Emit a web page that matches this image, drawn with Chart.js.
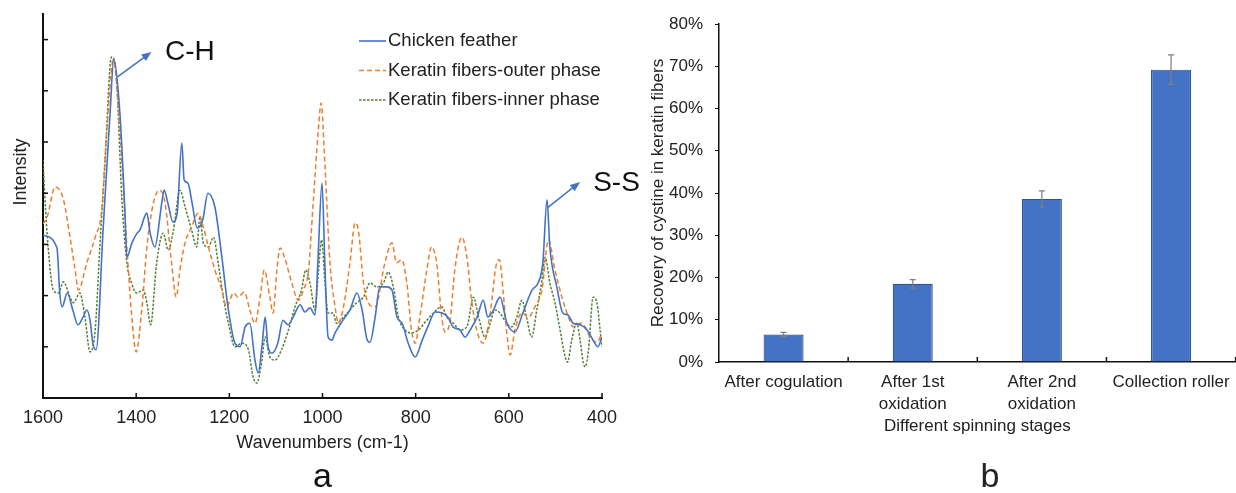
<!DOCTYPE html>
<html>
<head>
<meta charset="utf-8">
<script src="https://cdn.jsdelivr.net/npm/chart.js@4.4.1/dist/chart.umd.min.js"></script>
<style>
html, body { margin: 0; padding: 0; background: #fff; overflow: hidden; }
#wrap { position: relative; width: 1236px; height: 493px; }
#spec { position: absolute; left: 0; top: 0; }
#bars { position: absolute; left: 615px; top: 0; }
</style>
</head>
<body>
<div id="wrap">
<canvas id="spec" width="650" height="493" style="width:650px;height:493px"></canvas>
<canvas id="bars" width="624" height="493" style="width:624px;height:493px"></canvas>
</div>
<script>
// ---- panel a: Raman spectra, [wavenumber, intensity]
const chickenFeather = [[1600,3.18],[1570,2.93],[1564,2.05],[1559,1.78],[1548,2.05],[1536,1.72],[1525,1.43],[1514,1.58],[1506,1.72],[1499,1.52],[1493,1.07],[1486,0.94],[1471,3.28],[1456,5.57],[1448,6.62],[1435,5.57],[1424,3.61],[1420,2.75],[1409,3.03],[1398,3.22],[1392,3.28],[1377,3.61],[1370,3.22],[1360,2.95],[1345,3.81],[1340,4.06],[1332,3.81],[1321,3.44],[1312,3.61],[1302,4.98],[1297,4.26],[1289,4.20],[1280,3.81],[1269,3.32],[1257,3.48],[1246,4.00],[1231,3.73],[1216,2.75],[1203,1.78],[1188,1.07],[1177,1.00],[1166,1.39],[1156,1.46],[1145,0.74],[1138,0.49],[1130,1.00],[1123,1.58],[1117,1.00],[1108,0.88],[1096,1.07],[1085,1.52],[1074,1.43],[1063,1.58],[1048,1.82],[1038,1.68],[1027,1.76],[1016,1.62],[1010,2.64],[1001,4.20],[995,2.64],[988,1.19],[980,1.13],[973,1.27],[956,1.52],[941,1.72],[926,2.05],[915,1.72],[904,1.13],[898,1.09],[887,1.58],[877,2.17],[862,2.17],[851,2.11],[840,1.58],[829,1.46],[816,1.07],[801,0.80],[786,1.13],[774,1.39],[758,1.68],[743,1.66],[731,1.58],[720,1.39],[705,1.33],[694,1.19],[683,1.33],[668,1.58],[655,1.91],[645,1.58],[634,1.70],[619,1.97],[604,1.46],[587,1.29],[570,1.66],[550,2.11],[537,2.25],[527,2.64],[518,3.87],[512,2.95],[497,2.17],[484,1.66],[473,1.62],[462,1.46],[447,1.43],[432,1.33],[419,1.13],[409,1.00],[400,1.19]];
const outerPhase = [[1600,3.40],[1591,3.54],[1574,4.12],[1556,3.87],[1542,3.14],[1531,2.50],[1524,2.11],[1506,2.64],[1488,3.14],[1474,3.67],[1463,5.23],[1449,6.60],[1435,5.23],[1420,2.95],[1410,1.66],[1400,0.90],[1388,1.72],[1377,2.95],[1363,3.81],[1350,4.06],[1338,3.81],[1324,2.64],[1314,1.97],[1306,2.50],[1295,3.03],[1281,3.34],[1267,3.61],[1256,3.34],[1245,2.95],[1231,2.50],[1216,2.11],[1206,1.78],[1191,2.05],[1181,1.97],[1168,2.07],[1156,1.72],[1145,1.46],[1134,1.97],[1125,2.50],[1113,1.97],[1106,1.66],[1098,2.50],[1091,2.93],[1080,2.70],[1066,2.25],[1052,1.91],[1041,2.11],[1030,2.50],[1020,3.81],[1009,5.23],[1003,5.76],[995,4.59],[984,2.64],[973,1.78],[966,1.46],[955,1.78],[941,2.64],[930,3.42],[923,3.28],[912,2.25],[902,1.86],[887,1.78],[866,2.64],[851,3.03],[841,2.64],[830,2.70],[819,2.25],[809,1.33],[801,1.07],[791,1.58],[776,2.50],[766,2.95],[755,2.64],[744,1.58],[737,1.29],[726,1.52],[716,2.50],[701,3.14],[690,2.75],[680,1.91],[669,1.33],[655,1.07],[640,1.66],[626,2.64],[620,2.70],[612,2.05],[605,1.33],[597,0.84],[587,1.33],[572,1.66],[558,1.58],[544,1.78],[529,2.11],[515,3.09],[501,2.50],[486,1.97],[472,1.58],[462,1.39],[447,1.46],[436,1.39],[426,1.19],[411,1.09],[400,1.27]];
const innerPhase = [[1600,4.65],[1596,3.93],[1589,2.95],[1578,2.11],[1567,2.05],[1556,2.27],[1542,1.97],[1535,1.86],[1521,2.05],[1510,1.58],[1499,0.90],[1488,1.33],[1478,2.95],[1467,4.59],[1453,6.66],[1442,6.21],[1431,3.93],[1420,2.64],[1410,2.25],[1399,2.05],[1385,2.11],[1377,1.86],[1369,1.43],[1356,2.64],[1342,3.22],[1331,2.89],[1320,3.28],[1306,4.06],[1295,3.73],[1281,3.28],[1270,2.95],[1263,3.54],[1256,3.03],[1245,2.95],[1234,3.14],[1224,2.64],[1213,1.97],[1202,1.46],[1188,1.00],[1173,1.07],[1159,0.94],[1149,0.41],[1141,0.29],[1131,0.68],[1123,1.19],[1113,0.80],[1102,0.74],[1088,0.94],[1073,1.33],[1059,1.78],[1045,2.11],[1036,2.50],[1027,2.25],[1016,1.72],[1009,2.44],[1002,3.09],[995,2.30],[988,1.66],[977,1.66],[970,1.46],[955,1.58],[941,1.72],[927,1.86],[912,1.97],[898,2.25],[884,2.17],[869,2.25],[859,2.46],[848,2.17],[837,1.58],[823,1.33],[809,1.27],[794,1.33],[776,1.52],[762,1.66],[744,1.78],[733,1.58],[719,1.46],[705,1.33],[690,1.39],[676,1.97],[665,1.58],[651,1.19],[640,1.46],[630,1.72],[619,1.66],[605,1.46],[594,1.39],[583,1.58],[572,1.91],[562,1.58],[551,1.19],[540,1.72],[529,2.30],[522,2.75],[512,2.25],[501,1.86],[490,1.33],[479,0.80],[474,0.70],[465,1.13],[454,1.46],[447,1.13],[440,0.68],[436,0.61],[429,0.94],[419,1.97],[411,1.86],[404,1.33],[400,1.00]];
const wavenumberTicks = [1600, 1400, 1200, 1000, 800, 600, 400];
const intensityTicks = [1, 2, 3, 4, 5, 6, 7];
// peak labels: [text, arrow from, arrow to, text anchor] in data units
const peakNotes = [
    ['C-H', [1440, 6.27], [1367, 6.76], [1338, 6.76]],
    ['S-S', [518, 3.71], [447, 4.22], [419, 4.20]]
];

// ---- panel b: cystine recovery (%)
const stages = ['After cogulation', ['After 1st', 'oxidation'], ['After 2nd', 'oxidation'], 'Collection roller'];
const recovery = [6.5, 18.5, 38.6, 69.2];
const recoveryErr = [0.5, 1.0, 1.9, 3.5];
const percentTicks = [0, 10, 20, 30, 40, 50, 60, 70, 80];

const FONT = "'Liberation Sans', Arial, sans-serif";
const INK = '#222';
Chart.defaults.font.family = FONT;
Chart.defaults.color = INK;

function toXY(pairs) { return pairs.map(p => ({ x: p[0], y: p[1] })); }

function arrow(ctx, x1, y1, x2, y2, color) {
    var a = Math.atan2(y2 - y1, x2 - x1);
    ctx.save();
    ctx.strokeStyle = color; ctx.fillStyle = color; ctx.lineWidth = 1.5;
    ctx.beginPath(); ctx.moveTo(x1, y1);
    ctx.lineTo(x2 - 8 * Math.cos(a), y2 - 8 * Math.sin(a)); ctx.stroke();
    ctx.beginPath(); ctx.moveTo(x2, y2);
    ctx.lineTo(x2 - 10 * Math.cos(a) + 4 * Math.sin(a), y2 - 10 * Math.sin(a) - 4 * Math.cos(a));
    ctx.lineTo(x2 - 10 * Math.cos(a) - 4 * Math.sin(a), y2 - 10 * Math.sin(a) + 4 * Math.cos(a));
    ctx.closePath(); ctx.fill();
    ctx.restore();
}

const specDecor = {
    id: 'specDecor',
    afterDraw(chart) {
        var ctx = chart.ctx, xs = chart.scales.x, ys = chart.scales.y, area = chart.chartArea;
        ctx.save();
        // inward ticks
        ctx.strokeStyle = '#111'; ctx.lineWidth = 1.5;
        for (var v of wavenumberTicks) {
            var px = xs.getPixelForValue(v);
            ctx.beginPath(); ctx.moveTo(px, area.bottom); ctx.lineTo(px, area.bottom - 5); ctx.stroke();
        }
        for (var v of intensityTicks) {
            var py = ys.getPixelForValue(v);
            ctx.beginPath(); ctx.moveTo(area.left, py); ctx.lineTo(area.left + 5, py); ctx.stroke();
        }
        // y title, sits above centre in the original
        ctx.fillStyle = INK; ctx.font = '18px ' + FONT;
        ctx.textAlign = 'center'; ctx.textBaseline = 'middle';
        ctx.save(); ctx.translate(21, 172); ctx.rotate(-Math.PI / 2); ctx.fillText('Intensity', 0, 0); ctx.restore();
        // legend
        ctx.textAlign = 'left'; ctx.font = '18.5px ' + FONT;
        chart.data.datasets.forEach((ds, i) => {
            var y = 41 + i * 29.5;
            ctx.save();
            ctx.strokeStyle = ds.borderColor; ctx.lineWidth = ds.borderWidth;
            ctx.setLineDash(ds.borderDash || []);
            ctx.beginPath(); ctx.moveTo(359, y); ctx.lineTo(386, y); ctx.stroke();
            ctx.restore();
            ctx.fillText(ds.label, 388, y);
        });
        // peak notes
        ctx.font = '28px ' + FONT;
        for (var n of peakNotes) {
            arrow(ctx, xs.getPixelForValue(n[1][0]), ys.getPixelForValue(n[1][1]),
                xs.getPixelForValue(n[2][0]), ys.getPixelForValue(n[2][1]), '#4472C4');
            ctx.fillStyle = '#111';
            ctx.fillText(n[0], xs.getPixelForValue(n[3][0]), ys.getPixelForValue(n[3][1]));
        }
        // panel letter
        ctx.textAlign = 'center'; ctx.font = '34px ' + FONT;
        ctx.fillText('a', (area.left + area.right) / 2, 478);
        ctx.restore();
    }
};

new Chart(document.getElementById('spec'), {
    type: 'line',
    data: {
        datasets: [
            { label: 'Chicken feather', data: toXY(chickenFeather), borderColor: '#4472C4', borderWidth: 1.6 },
            { label: 'Keratin fibers-outer phase', data: toXY(outerPhase), borderColor: '#ED7D31', borderWidth: 1.5, borderDash: [5, 3] },
            { label: 'Keratin fibers-inner phase', data: toXY(innerPhase), borderColor: '#548235', borderWidth: 1.5, borderDash: [2.5, 1.5] }
        ]
    },
    options: {
        responsive: false,
        animation: false,
        layout: { padding: { left: 0, top: 14, right: 48, bottom: 0 } },
        elements: { point: { radius: 0 }, line: { cubicInterpolationMode: 'monotone' } },
        plugins: { legend: { display: false }, tooltip: { enabled: false } },
        scales: {
            x: {
                type: 'linear', reverse: true, min: 400, max: 1600,
                afterBuildTicks: s => { s.ticks = wavenumberTicks.map(v => ({ value: v })); },
                ticks: { padding: 9, font: { size: 18 }, color: INK, maxRotation: 0, callback: v => String(v) },
                grid: { display: false, drawTicks: false },
                border: { color: '#111', width: 2 },
                title: { display: true, text: 'Wavenumbers (cm-1)', font: { size: 18 }, color: INK, padding: { top: 0, bottom: 39 } },
                afterFit: s => { s.height = 95; }
            },
            y: {
                min: 0, max: 7.5,
                ticks: { display: false },
                grid: { display: false, drawTicks: false },
                border: { color: '#111', width: 2 },
                afterFit: s => { s.width = 43; }
            }
        }
    },
    plugins: [specDecor]
});

const barDecor = {
    id: 'barDecor',
    afterDatasetsDraw(chart) {
        var ctx = chart.ctx, xs = chart.scales.x, ys = chart.scales.y, area = chart.chartArea;
        var meta = chart.getDatasetMeta(0);
        ctx.save();
        // error bars
        ctx.strokeStyle = '#7f7f7f'; ctx.lineWidth = 1.2;
        meta.data.forEach((bar, i) => {
            var top = ys.getPixelForValue(recovery[i] + recoveryErr[i]);
            var bot = ys.getPixelForValue(recovery[i] - recoveryErr[i]);
            ctx.beginPath();
            ctx.moveTo(bar.x, top); ctx.lineTo(bar.x, bot);
            ctx.moveTo(bar.x - 3, top); ctx.lineTo(bar.x + 3, top);
            ctx.moveTo(bar.x - 3, bot); ctx.lineTo(bar.x + 3, bot);
            ctx.stroke();
        });
        // inward category ticks
        ctx.strokeStyle = '#111'; ctx.lineWidth = 1.5;
        for (var i = 0; i < stages.length; i++) {
            var px = Math.min(xs.getPixelForValue(i + 0.5), area.right);
            ctx.beginPath(); ctx.moveTo(px, area.bottom); ctx.lineTo(px, area.bottom - 5); ctx.stroke();
        }
        ctx.fillStyle = INK; ctx.font = '34px ' + FONT;
        ctx.textAlign = 'center'; ctx.textBaseline = 'middle';
        ctx.fillText('b', 375, 478);
        ctx.restore();
    }
};

new Chart(document.getElementById('bars'), {
    type: 'bar',
    data: {
        labels: stages,
        datasets: [{
            data: recovery, backgroundColor: '#4472C4', borderColor: '#2F528F', borderWidth: 1.2,
            barPercentage: 0.31, categoryPercentage: 1
        }]
    },
    options: {
        responsive: false,
        animation: false,
        layout: { padding: { left: 0, top: 24, right: 3, bottom: 0 } },
        plugins: { legend: { display: false }, tooltip: { enabled: false } },
        scales: {
            x: {
                grid: { display: false, drawTicks: false },
                border: { color: '#111', width: 1.5 },
                ticks: { padding: 9, font: { size: 17, lineHeight: 1.3 }, color: INK, maxRotation: 0, autoSkip: false },
                title: { display: true, text: 'Different spinning stages', font: { size: 17 }, color: INK, padding: { top: 0, bottom: 56 } },
                afterFit: s => { s.height = 131; }
            },
            y: {
                min: 0, max: 80,
                afterBuildTicks: s => { s.ticks = percentTicks.map(v => ({ value: v })); },
                ticks: { padding: 12, font: { size: 17 }, color: INK, callback: v => v + '%' },
                grid: { drawOnChartArea: false, drawTicks: true, tickLength: 4, color: '#111' },
                border: { color: '#111', width: 1.5 },
                title: { display: true, text: 'Recovery of cystine in keratin fibers', font: { size: 17 }, color: INK, padding: { top: 33, bottom: 0 } },
                afterFit: s => { s.width = 104; }
            }
        }
    },
    plugins: [barDecor]
});
</script>
</body>
</html>
